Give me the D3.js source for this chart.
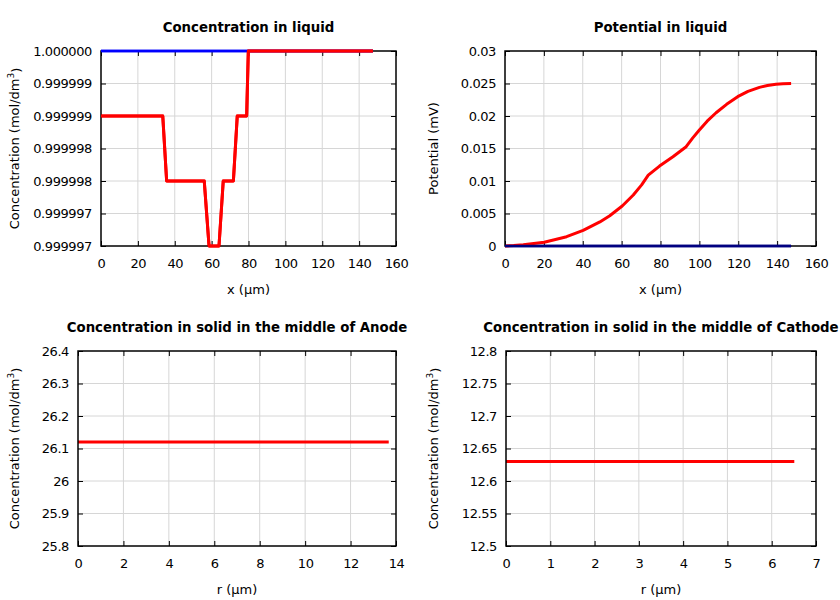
<!DOCTYPE html>
<html>
<head>
<meta charset="utf-8">
<script src="https://cdn.jsdelivr.net/npm/d3@7"></script>
<style>
  body { margin: 0; background: #fff; }
  svg { display: block; }
  text { font-family: "DejaVu Sans", sans-serif; fill: #000; }
</style>
</head>
<body>
<svg id="chart" width="840" height="600"></svg>
<script>
// ---------- Data ----------
// Panel 1: Concentration in liquid
const concX      = [0, 33.5, 35.6, 56.0, 58.6, 64.0, 66.3, 71.8, 73.9, 79.0, 79.9, 147.5];
const concRed    = [0.999999, 0.999999, 0.999998, 0.999998, 0.999997, 0.999997, 0.999998, 0.999998, 0.999999, 0.999999, 1.0, 1.0];
const concBlueX  = [0, 147.5];
const concBlue   = [1.0, 1.0];
const concXTicks = [0, 20, 40, 60, 80, 100, 120, 140, 160];
const concYTicks = [0.999997, 0.9999975, 0.999998, 0.9999985, 0.999999, 0.9999995, 1.0];
const concYLabels = ["0.999997", "0.999997", "0.999998", "0.999998", "0.999999", "0.999999", "1.000000"];

// Panel 2: Potential in liquid
const potX    = [0, 4.5, 9.4, 20.2, 31.7, 40.2, 48.8, 53.9, 60.3, 66, 70.3, 73.7, 79.5, 86.4, 93.2, 96.5, 100, 104, 108.6, 114, 119.7, 125, 130.9, 135, 139.4, 143, 147.2];
const potRed  = [0, 0.00008, 0.0002, 0.00057, 0.00143, 0.0024, 0.0037, 0.00466, 0.00615, 0.00785, 0.0094, 0.0109, 0.0123, 0.01374, 0.01528, 0.0166, 0.01785, 0.0192, 0.0205, 0.0218, 0.02297, 0.0238, 0.0244, 0.0247, 0.0249, 0.02497, 0.025];
const potBlueX = [0, 147.2];
const potBlue  = [0, 0];
const potXTicks = [0, 20, 40, 60, 80, 100, 120, 140, 160];
const potYTicks = [0, 0.005, 0.01, 0.015, 0.02, 0.025, 0.03];
const potYLabels = ["0", "0.005", "0.01", "0.015", "0.02", "0.025", "0.03"];

// Panel 3: Anode solid concentration
const anodeR    = [0, 13.68];
const anodeC    = [26.12, 26.12];
const anodeXTicks = [0, 2, 4, 6, 8, 10, 12, 14];
const anodeYTicks = [25.8, 25.9, 26.0, 26.1, 26.2, 26.3, 26.4];
const anodeYLabels = ["25.8", "25.9", "26", "26.1", "26.2", "26.3", "26.4"];

// Panel 4: Cathode solid concentration
const cathR    = [0, 6.51];
const cathC    = [12.63, 12.63];
const cathXTicks = [0, 1, 2, 3, 4, 5, 6, 7];
const cathYTicks = [12.5, 12.55, 12.6, 12.65, 12.7, 12.75, 12.8];
const cathYLabels = ["12.5", "12.55", "12.6", "12.65", "12.7", "12.75", "12.8"];

// ---------- Drawing ----------
const svg = d3.select("#chart");
const TICK_FS = 13, TICK_LS = -0.4;

function panel(cfg) {
  const {box, xDomain, yDomain, xTicks, yTicks, yLabels, title, xLabel, yLabel, yLabelX, series} = cfg;
  const x = d3.scaleLinear().domain(xDomain).range([box.l, box.r]);
  const y = d3.scaleLinear().domain(yDomain).range([box.b, box.t]);
  const g = svg.append("g");

  // grid
  g.append("g").selectAll("line").data(xTicks.slice(1, -1)).join("line")
    .attr("x1", d => x(d)).attr("x2", d => x(d)).attr("y1", box.t).attr("y2", box.b)
    .attr("stroke", "#d6d6d6").attr("stroke-width", 1);
  g.append("g").selectAll("line").data(yTicks.slice(1, -1)).join("line")
    .attr("y1", d => y(d)).attr("y2", d => y(d)).attr("x1", box.l).attr("x2", box.r)
    .attr("stroke", "#d6d6d6").attr("stroke-width", 1);

  // axes with labels (bottom / left), mirrored inward ticks
  const xAxis = d3.axisBottom(x).tickValues(xTicks).tickSizeInner(-5).tickSizeOuter(0).tickFormat(d3.format("d"));
  const ax = g.append("g").attr("transform", `translate(0,${box.b})`).call(xAxis);
  ax.select(".domain").remove();
  ax.selectAll("text").attr("font-size", TICK_FS).attr("letter-spacing", TICK_LS)
    .attr("font-family", "DejaVu Sans").attr("dy", null).attr("y", 22);
  ax.selectAll("line").attr("stroke", "#000");

  const yAxis = d3.axisLeft(y).tickValues(yTicks).tickSizeInner(-5).tickSizeOuter(0)
    .tickFormat((d, i) => yLabels[i]);
  const ay = g.append("g").attr("transform", `translate(${box.l},0)`).call(yAxis);
  ay.select(".domain").remove();
  ay.selectAll("text").attr("font-size", TICK_FS).attr("letter-spacing", TICK_LS)
    .attr("font-family", "DejaVu Sans").attr("x", -9);
  ay.selectAll("line").attr("stroke", "#000");

  const axTop = d3.axisTop(x).tickValues(xTicks).tickSizeInner(-5).tickSizeOuter(0).tickFormat("");
  const at = g.append("g").attr("transform", `translate(0,${box.t})`).call(axTop);
  at.select(".domain").remove();
  at.selectAll("line").attr("stroke", "#000");
  const axRight = d3.axisRight(y).tickValues(yTicks).tickSizeInner(-5).tickSizeOuter(0).tickFormat("");
  const ar = g.append("g").attr("transform", `translate(${box.r},0)`).call(axRight);
  ar.select(".domain").remove();
  ar.selectAll("line").attr("stroke", "#000");

  // series
  const line = d3.line().x(d => x(d[0])).y(d => y(d[1]));
  series.forEach(s => {
    const pts = s.xs.map((v, i) => [v, s.ys[i]]);
    g.append("path").datum(pts).attr("d", line)
      .attr("fill", "none").attr("stroke", s.color).attr("stroke-width", s.width)
      .attr("stroke-linejoin", "round");
  });

  // frame
  g.append("rect").attr("x", box.l).attr("y", box.t).attr("width", box.r - box.l).attr("height", box.b - box.t)
    .attr("fill", "none").attr("stroke", "#000").attr("stroke-width", 1.5);

  // redraw lines that sit on the frame on top
  series.filter(s => s.onTop).forEach(s => {
    const pts = s.xs.map((v, i) => [v, s.ys[i]]);
    g.append("path").datum(pts).attr("d", line)
      .attr("fill", "none").attr("stroke", s.color).attr("stroke-width", s.width)
      .attr("stroke-linejoin", "round");
  });

  // title
  g.append("text").attr("x", (box.l + box.r) / 2).attr("y", box.t - 19)
    .attr("text-anchor", "middle").attr("font-size", 13.3).attr("font-weight", "bold").text(title);
  // x label
  g.append("text").attr("x", (box.l + box.r) / 2).attr("y", box.b + 48)
    .attr("text-anchor", "middle").attr("font-size", 13).text(xLabel);
  // y label
  const yl = g.append("text").attr("transform", `translate(${yLabelX},${(box.t + box.b) / 2}) rotate(-90)`)
    .attr("text-anchor", "middle").attr("font-size", 13);
  yl.append("tspan").text(yLabel.main);
  if (yLabel.sup) {
    yl.append("tspan").attr("font-size", 9).attr("dy", "-0.55em").text(yLabel.sup);
    yl.append("tspan").attr("dy", "0.55em").text(yLabel.tail);
  }
}

const concLabel = {main: "Concentration (mol/dm", sup: "3", tail: ")"};

panel({
  box: {l: 101, r: 396, t: 51, b: 246},
  xDomain: [0, 160], yDomain: [0.999997, 1.0],
  xTicks: concXTicks, yTicks: concYTicks, yLabels: concYLabels,
  title: "Concentration in liquid", xLabel: "x (µm)", yLabel: concLabel, yLabelX: 19,
  series: [
    {xs: concBlueX, ys: concBlue, color: "#0000ff", width: 2.5, onTop: true},
    {xs: concX, ys: concRed, color: "#ff0000", width: 3, onTop: true}
  ]
});

panel({
  box: {l: 505, r: 816, t: 51, b: 246},
  xDomain: [0, 160], yDomain: [0, 0.03],
  xTicks: potXTicks, yTicks: potYTicks, yLabels: potYLabels,
  title: "Potential in liquid", xLabel: "x (µm)", yLabel: {main: "Potential (mV)"}, yLabelX: 438,
  series: [
    {xs: potBlueX, ys: potBlue, color: "#000080", width: 2.5, onTop: true},
    {xs: potX, ys: potRed, color: "#ff0000", width: 3}
  ]
});

panel({
  box: {l: 78, r: 396, t: 351, b: 546},
  xDomain: [0, 14], yDomain: [25.8, 26.4],
  xTicks: anodeXTicks, yTicks: anodeYTicks, yLabels: anodeYLabels,
  title: "Concentration in solid in the middle of Anode", xLabel: "r (µm)", yLabel: concLabel, yLabelX: 19,
  series: [
    {xs: anodeR, ys: anodeC, color: "#ff0000", width: 3}
  ]
});

panel({
  box: {l: 506, r: 816, t: 351, b: 546},
  xDomain: [0, 7], yDomain: [12.5, 12.8],
  xTicks: cathXTicks, yTicks: cathYTicks, yLabels: cathYLabels,
  title: "Concentration in solid in the middle of Cathode", xLabel: "r (µm)", yLabel: concLabel, yLabelX: 438,
  series: [
    {xs: cathR, ys: cathC, color: "#ff0000", width: 3}
  ]
});
</script>
</body>
</html>
